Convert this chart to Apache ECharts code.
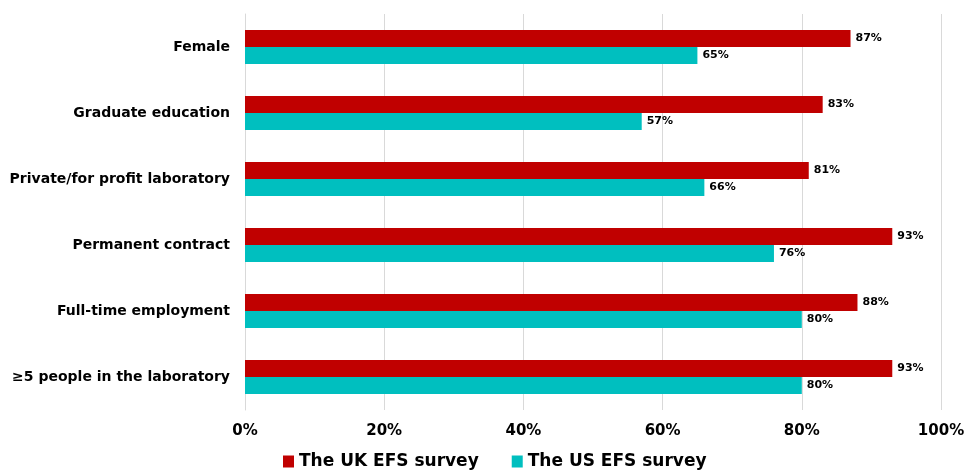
<!DOCTYPE html>
<html><head><meta charset="utf-8">
<script src="https://cdn.jsdelivr.net/npm/echarts@6/dist/echarts.min.js"></script>
<style>html,body{margin:0;padding:0;background:#fff}#c{width:968px;height:470px}</style>
</head><body><div id="c"></div>
<script>
const categories = ["Female","Graduate education","Private/for profit laboratory","Permanent contract","Full-time employment","≥5 people in the laboratory"];
const ukValues = [87,83,81,93,88,93];
const usValues = [65,57,66,76,80,80];
const seriesNames = ["The UK EFS survey","The US EFS survey"];
const xTicks = [0,20,40,60,80,100];

const FONT = '"DejaVu Sans",sans-serif';
const chart = echarts.init(document.getElementById('c'));
const lbl = {show:true, position:'right', formatter:p=>p.value+'%', color:'#000', fontWeight:'bold', fontSize:11, fontFamily:FONT, distance:5};
chart.setOption({
  animation:false,
  grid:{left:245, right:27, top:14, bottom:60, containLabel:false},
  legend:{top:453, left:283, padding:0, itemWidth:11, itemHeight:12, itemGap:33, itemTextGap:5, icon:'rect',
    textStyle:{fontSize:17, fontWeight:'bold', fontFamily:FONT, color:'#000'},
    data:seriesNames},
  xAxis:{type:'value', min:0, max:100, interval:20,
    axisLabel:{formatter:v=>v+'%', fontSize:15, fontWeight:'bold', fontFamily:FONT, color:'#000', margin:14},
    axisLine:{show:false}, axisTick:{show:false},
    splitLine:{show:true, lineStyle:{color:'#d9d9d9', width:1}}},
  yAxis:{type:'category', data:categories, inverse:true,
    axisLabel:{fontSize:14, fontWeight:'bold', fontFamily:FONT, color:'#000', margin:15},
    axisLine:{show:true, lineStyle:{color:'#d9d9d9'}}, axisTick:{show:false}},
  series:[
    {name:seriesNames[0], type:'bar', data:ukValues, barWidth:17, barGap:'0%', itemStyle:{color:'#C00000'}, label:lbl},
    {name:seriesNames[1], type:'bar', data:usValues, barWidth:17, barGap:'0%', itemStyle:{color:'#00BFBF'}, label:lbl}
  ]
});
</script></body></html>
